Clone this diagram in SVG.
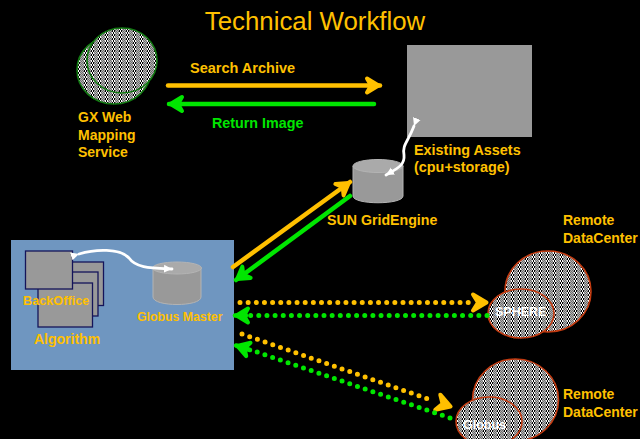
<svg xmlns="http://www.w3.org/2000/svg" width="640" height="439" viewBox="0 0 640 439">
<style>
text{font-family:"Liberation Sans",Arial,sans-serif;font-weight:700;fill:#ffc000}
.y{fill:none;stroke:#ffc000;stroke-width:4.5;stroke-linecap:round}
.g{fill:none;stroke:#00e600;stroke-width:4.5;stroke-linecap:round}
.yd{fill:none;stroke:#ffc000;stroke-width:5;stroke-linecap:round;stroke-dasharray:0 8.15}
.gd{fill:none;stroke:#00e600;stroke-width:5;stroke-linecap:round;stroke-dasharray:0 8.15}
.w{fill:none;stroke:#fff;stroke-width:2.8;stroke-linecap:round}
.card{fill:#999;stroke:#14145a;stroke-width:1.3}
.cyl{fill:#999;stroke:#b4b4b4;stroke-width:1}
.top{fill:#aaa;stroke:#b4b4b4;stroke-width:1}
.gx{fill:url(#p);stroke:#127a12;stroke-width:1.6}
.dc{fill:url(#p);stroke:#c23a10;stroke-width:1.6}
</style>
<defs>
<pattern id="p" width="7" height="4" patternUnits="userSpaceOnUse">
<rect width="7" height="4" fill="#b0b0b0"/>
<rect x="0" y="0" width="1" height="2" fill="#fff"/><rect x="1" y="0" width="1" height="2" fill="#000"/><rect x="2" y="0" width="1" height="2" fill="#fff"/>
<rect x="0" y="2" width="1" height="2" fill="#000"/><rect x="1" y="2" width="1" height="2" fill="#fff"/><rect x="2" y="2" width="1" height="2" fill="#000"/>
<rect x="3" y="0" width="1" height="1" fill="#707070"/><rect x="5" y="0" width="1" height="1" fill="#707070"/><rect x="4" y="1" width="1" height="1" fill="#707070"/><rect x="6" y="1" width="1" height="1" fill="#707070"/>
<rect x="3" y="2" width="1" height="1" fill="#707070"/><rect x="5" y="2" width="1" height="1" fill="#707070"/><rect x="4" y="3" width="1" height="1" fill="#707070"/><rect x="6" y="3" width="1" height="1" fill="#707070"/>
</pattern>
<marker id="ya" markerUnits="userSpaceOnUse" markerWidth="28" markerHeight="28" refX="21" refY="14" orient="auto"><path d="M8 7 L19.500 14 L8 21 L12 14Z" fill="#ffc000" stroke="#ffc000" stroke-width="4" stroke-linejoin="round"/></marker>
<marker id="yb" markerUnits="userSpaceOnUse" markerWidth="28" markerHeight="28" refX="21" refY="14" orient="auto"><path d="M6 6 L19.500 14 L6 22 L11 14Z" fill="#ffc000" stroke="#ffc000" stroke-width="4" stroke-linejoin="round"/></marker>
<marker id="ga" markerUnits="userSpaceOnUse" markerWidth="28" markerHeight="28" refX="21" refY="14" orient="auto"><path d="M8 7 L19.500 14 L8 21 L12 14Z" fill="#00e600" stroke="#00e600" stroke-width="4" stroke-linejoin="round"/></marker>
<marker id="wa" markerUnits="userSpaceOnUse" markerWidth="12" markerHeight="12" refX="8" refY="6" orient="auto"><path d="M0 2 L8 6 L0 10 Z" fill="#fff"/></marker>
</defs>
<rect width="640" height="439" fill="#000"/>
<text id="title" x="315" y="30" font-size="25.800" text-anchor="middle" style="font-weight:400">Technical Workflow</text>
<g id="gx-web">
<ellipse class="gx" cx="114" cy="70" rx="37" ry="34"/>
<ellipse class="gx" cx="122" cy="60.500" rx="35" ry="32.500"/>
<text x="78" y="122" font-size="14">GX Web</text><text x="78" y="140" font-size="14">Mapping</text><text x="78" y="157" font-size="14">Service</text>
</g>
<g id="assets">
<rect x="407" y="45" width="125" height="92" fill="#999"/>
<text x="414" y="155" font-size="14.400">Existing Assets</text><text x="414" y="172" font-size="14.400">(cpu+storage)</text>
</g>
<g id="sun">
<path class="cyl" d="M353 166V196C353 205 403 205 403 196V166Z"/><ellipse class="top" cx="378" cy="166" rx="25" ry="6.500"/>
<text x="327" y="225" font-size="14.200">SUN GridEngine</text>
</g>
<g id="backoffice-panel">
<rect x="11" y="240" width="223" height="130" fill="#6f96c0"/>
<rect class="card" x="47" y="262" width="56.500" height="43.500"/>
<rect class="card" x="44" y="272" width="54" height="44"/>
<rect class="card" x="38" y="283" width="54.500" height="44"/>
<rect class="card" x="25.500" y="251" width="47" height="38"/>
<text x="23" y="305" font-size="12.700">BackOffice</text>
<text x="34" y="344" font-size="14">Algorithm</text>
</g>
<g id="globus-master">
<path class="cyl" d="M153 268V297C153 307 201 307 201 297V268Z"/><ellipse class="top" cx="177" cy="268" rx="24.500" ry="6"/>
<text x="137" y="321" font-size="12.300">Globus Master</text>
</g>
<g id="sphere-dc">
<ellipse class="dc" cx="548" cy="291.500" rx="43" ry="40.500"/>
<ellipse class="dc" cx="521" cy="313.500" rx="33" ry="24.500"/>
<text x="495" y="316" font-size="12.500" style="fill:#fff">SPHERE</text>
<text x="563" y="225" font-size="14">Remote</text><text x="563" y="243" font-size="14">DataCenter</text>
</g>
<g id="globus-dc">
<ellipse class="dc" cx="515.500" cy="400" rx="43" ry="41"/>
<ellipse class="dc" cx="489" cy="421.500" rx="33" ry="24.500"/>
<text x="463" y="429" font-size="12.500" style="fill:#fff">Globus</text>
<text x="563" y="399" font-size="14">Remote</text><text x="563" y="417" font-size="14">DataCenter</text>
</g>
<g id="connectors">
<path class="y" d="M168 85.500H380" marker-end="url(#ya)"/>
<path class="g" d="M374 104H169" marker-end="url(#ga)"/>
<path class="y" d="M233 267L350 182" marker-end="url(#ya)"/>
<path class="g" d="M350 196L236 280" marker-end="url(#ga)"/>
<path class="yd" d="M240 302.500H475"/><path class="y" d="M477 302.500H488" marker-end="url(#yb)" style="stroke-width:0"/>
<path class="gd" d="M487 315.500H248"/><path class="g" d="M246 315.500H235" marker-end="url(#ga)"/>
<path class="yd" d="M242 334L434 401"/><path class="y" d="M440 403L452 407" marker-end="url(#yb)" style="stroke-width:0"/>
<path class="gd" d="M450 418L251 350"/><path class="g" d="M250 350L236 345.500" marker-end="url(#ga)"/>
<path class="w" d="M414 126C408 142 402 145 404 155C405 165 398 168 386 175" marker-start="url(#wa)" marker-end="url(#wa)"/>
<path class="w" d="M79 254C95 249 120 248 129 258C136 268 150 268 172 269" marker-start="url(#wa)" marker-end="url(#wa)"/>
</g>
<text x="190" y="73" font-size="14.500">Search Archive</text>
<text x="212" y="128" font-size="14.300" style="fill:#00e600">Return Image</text>
</svg>
